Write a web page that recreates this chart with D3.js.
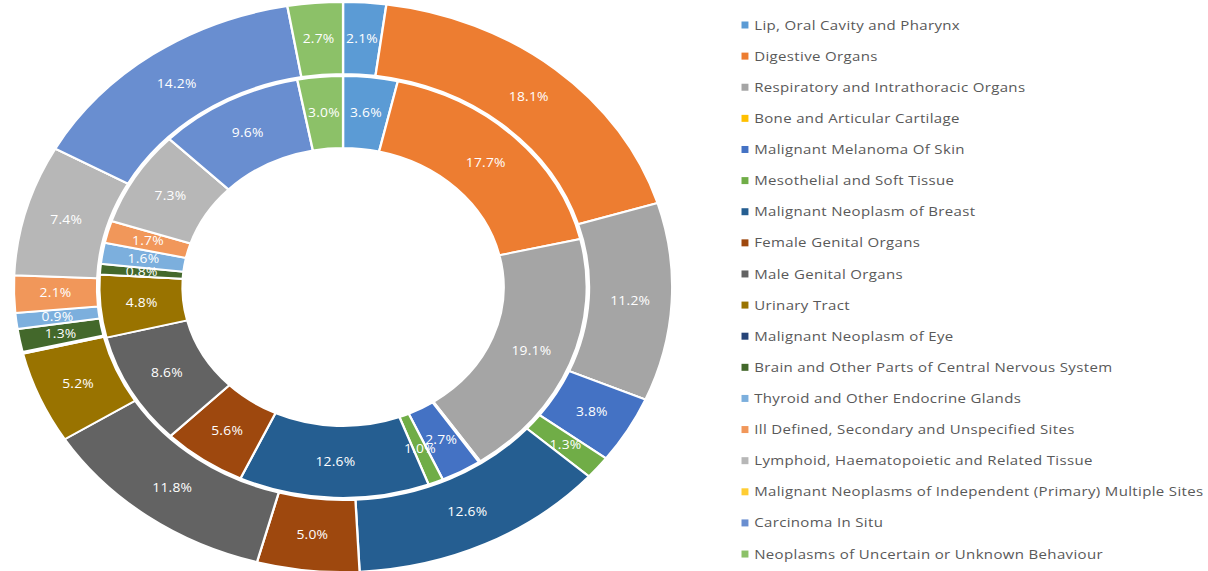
<!DOCTYPE html>
<html>
<head>
<meta charset="utf-8">
<style>
  body { margin: 0; background: #fff; }
  text { font-family: "Open Sans", sans-serif; }
</style>
</head>
<body>
<div id="chart-area"></div>
<script src="https://d3js.org/d3.v7.min.js"></script>
<script>
    const categories = [
        "Lip, Oral Cavity and Pharynx",
        "Digestive Organs",
        "Respiratory and Intrathoracic Organs",
        "Bone and Articular Cartilage",
        "Malignant Melanoma Of Skin",
        "Mesothelial and Soft Tissue",
        "Malignant Neoplasm of Breast",
        "Female Genital Organs",
        "Male Genital Organs",
        "Urinary Tract",
        "Malignant Neoplasm of Eye",
        "Brain and Other Parts of Central Nervous System",
        "Thyroid and Other Endocrine Glands",
        "Ill Defined, Secondary and Unspecified Sites",
        "Lymphoid, Haematopoietic and Related Tissue",
        "Malignant Neoplasms of Independent (Primary) Multiple Sites",
        "Carcinoma In Situ",
        "Neoplasms of Uncertain or Unknown Behaviour"
    ];

    // percentages, inner ring and outer ring
    const innerValues = [3.6, 17.7, 19.1, 0.1, 2.7, 1.0, 12.6, 5.6, 8.6, 4.8, 0, 0.8, 1.6, 1.7, 7.3, 0, 9.6, 3.0];
    const outerValues = [2.1, 18.1, 11.2, 0, 3.8, 1.3, 12.6, 5.0, 11.8, 5.2, 0.1, 1.3, 0.9, 2.1, 7.4, 0, 14.2, 2.7];

    const colors = ["#5B9BD5", "#ED7D31", "#A5A5A5", "#FFC000", "#4472C4", "#70AD47",
        "#255E91", "#9E480E", "#636363", "#997300", "#264478", "#43682B",
        "#7CAFDD", "#F1975A", "#B7B7B7", "#FFCD33", "#698ED0", "#8CC168"];

    const width = 1208;
    const height = 571;
    const sx = 1.155; // the picture is stretched sideways

    const svg = d3.select("#chart-area")
        .append("svg")
            .attr("width", width)
            .attr("height", height);

    const root = svg.append("g")
        .attr("transform", `scale(${sx},1)`);

    const color = d3.scaleOrdinal(categories, colors);

    const pie = d3.pie()
        .value(d => d.v)
        .sort(null);

    const rings = [
        { values: innerValues, r0: 139, r1: 211 },
        { values: outerValues, r0: 213, r1: 285 }
    ];

    const g = root.append("g")
        .attr("transform", `translate(297, 287)`);

    rings.forEach(ring => {
        const data = categories.map((c, i) => ({ c: c, v: ring.values[i] }));
        const arc = d3.arc()
            .innerRadius(ring.r0)
            .outerRadius(ring.r1);

        const arcs = pie(data);

        g.append("g").selectAll("path")
            .data(arcs)
            .enter().append("path")
                .attr("d", arc)
                .attr("fill", d => color(d.data.c))
                .attr("stroke", "white")
                .attr("stroke-width", 2);

        g.append("g").selectAll("text")
            .data(arcs.filter(d => d.data.v >= 0.5))
            .enter().append("text")
                .attr("transform", d => `translate(${arc.centroid(d)})`)
                .attr("text-anchor", "middle")
                .attr("dy", "0.35em")
                .attr("fill", "#ffffff")
                .style("font-size", "12px")
                .style("letter-spacing", "0.2px")
                .text(d => d.data.v.toFixed(1) + "%");
    });

    // legend
    const legend = root.append("g")
        .attr("transform", "translate(642, 25)");

    const item = legend.selectAll("g")
        .data(categories)
        .enter().append("g")
            .attr("transform", (d, i) => `translate(0, ${i * 31.12})`);

    item.append("rect")
        .attr("x", 0)
        .attr("y", -3.5)
        .attr("width", 6)
        .attr("height", 7)
        .attr("fill", d => color(d));

    item.append("text")
        .attr("x", 11)
        .attr("dy", "0.35em")
        .attr("fill", "#595959")
        .style("font-size", "13px")
        .style("letter-spacing", "0.3px")
        .text(d => d);
</script>
</body>
</html>
